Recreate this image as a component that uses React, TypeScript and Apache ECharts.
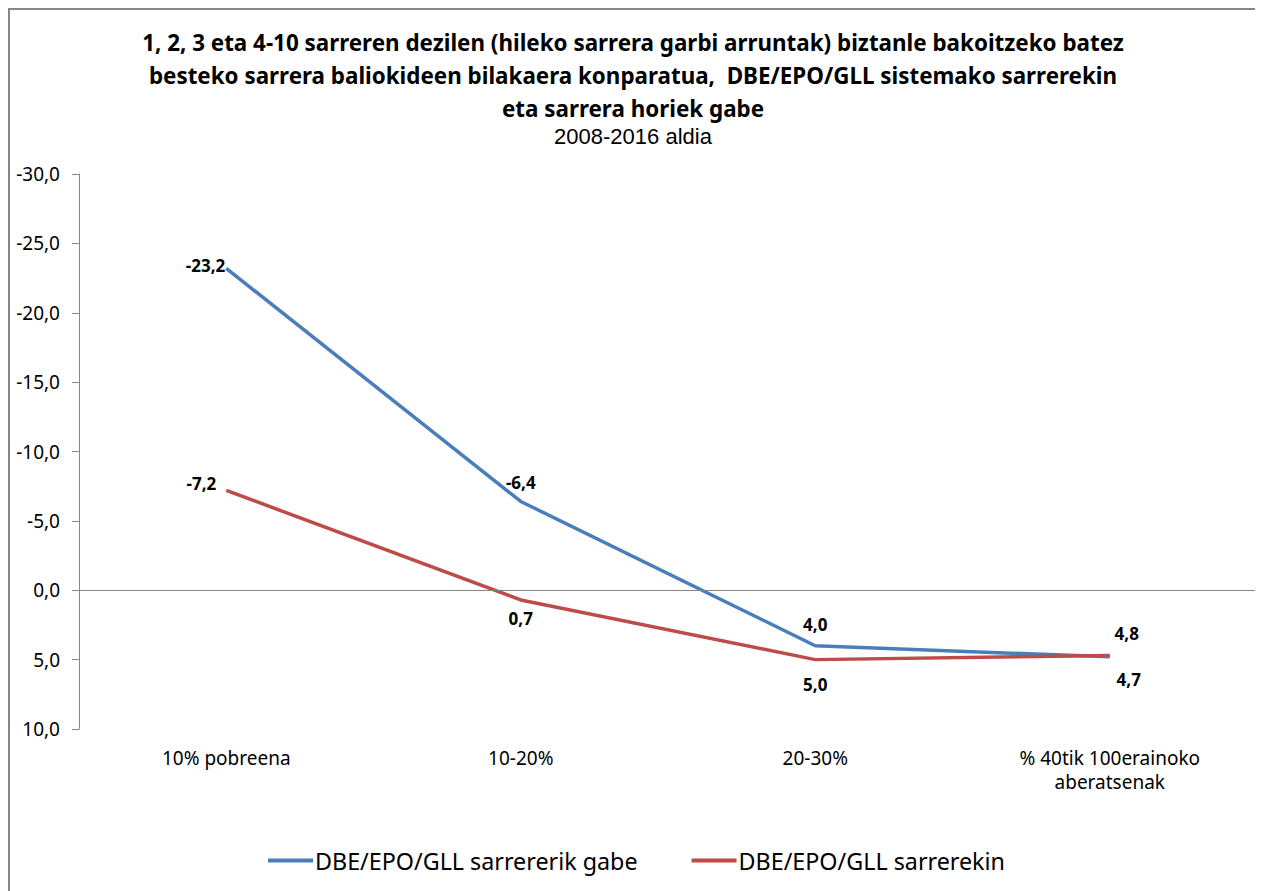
import React, { useEffect, useRef } from "react";
import * as echarts from "echarts";

const categories = ["10% pobreena", "10-20%", "20-30%", "% 40tik 100erainoko\naberatsenak"];
const seriesNames = ["DBE/EPO/GLL sarrererik gabe", "DBE/EPO/GLL sarrerekin"];
const withoutValues = [-23.2, -6.4, 4.0, 4.8];
const withValues = [-7.2, 0.7, 5.0, 4.7];
const titleLines = [
  "1, 2, 3 eta 4-10 sarreren dezilen (hileko sarrera garbi arruntak) biztanle bakoitzeko batez",
  "besteko sarrera baliokideen bilakaera konparatua,  DBE/EPO/GLL sistemako sarrerekin",
  "eta sarrera horiek gabe",
];
const subtitle = "2008-2016 aldia";

const blueLabelPos = [
  { position: "left", distance: 1, offset: [0, -3] },
  { position: "top", distance: 10, offset: [0, 0] },
  { position: "top", distance: 13, offset: [0, 0] },
  { position: "top", distance: 15, offset: [17, 0] },
];
const redLabelPos = [
  { position: "left", distance: 10, offset: [0, -7] },
  { position: "bottom", distance: 10, offset: [0, 0] },
  { position: "bottom", distance: 16, offset: [0, 0] },
  { position: "bottom", distance: 16, offset: [19, 0] },
];

const fmt = (v: number) => v.toFixed(1).replace(".", ",");
const FONT = "Noto Sans";

export default function App() {
  const ref = useRef<HTMLDivElement>(null);
  useEffect(() => {
    if (!ref.current) return;
    const chart = echarts.init(ref.current, undefined, { renderer: "svg" });
    const labelStyle = {
      show: true,
      formatter: (p: any) => fmt(p.value),
      fontFamily: FONT,
      fontWeight: "bold",
      fontSize: 17,
      color: "#000",
    };
    const mk = (vals: number[], pos: any[]) =>
      vals.map((v, i) => ({
        value: v,
        label: { ...labelStyle, position: pos[i].position, distance: pos[i].distance, offset: pos[i].offset },
      }));
    chart.setOption({
      animation: false,
      backgroundColor: "#fff",
      title: {
        text: titleLines.join("\n"),
        subtext: subtitle,
        left: 623,
        top: 16,
        padding: 0,
        itemGap: 1,
        textAlign: "center",
        textStyle: { fontFamily: FONT, fontWeight: "bold", fontSize: 22.4, lineHeight: 33, color: "#000" },
        subtextStyle: { fontFamily: "Liberation Sans", fontSize: 22, lineHeight: 20, color: "#000" },
      },
      legend: {
        bottom: 14,
        left: 253,
        width: 980,
        itemWidth: 45,
        itemHeight: 4,
        itemGap: 54,
        icon: "rect",
        textStyle: { fontFamily: FONT, fontSize: 23.3, color: "#000", padding: [0, 0, 0, -3] },
        data: seriesNames,
      },
      grid: { left: 69, right: 0, top: 164, height: 555 },
      xAxis: {
        type: "category",
        data: categories,
        boundaryGap: true,
        axisLine: { show: false },
        axisTick: { show: false },
        axisLabel: { fontFamily: FONT, fontSize: 19, color: "#000", margin: 17, lineHeight: 24 },
      },
      yAxis: {
        type: "value",
        inverse: true,
        min: -30,
        max: 10,
        interval: 5,
        axisLine: { show: true, lineStyle: { color: "#868686", width: 1 } },
        axisTick: { show: true, inside: false, length: 7, lineStyle: { color: "#868686" } },
        splitLine: { show: false },
        axisLabel: { fontFamily: FONT, fontSize: 19, color: "#000", margin: 19, formatter: (v: number) => fmt(v) },
      },
      series: [
        {
          name: seriesNames[0],
          type: "line",
          data: mk(withoutValues, blueLabelPos),
          symbol: "circle",
          symbolSize: 0,
          showSymbol: true,
          lineStyle: { color: "#4A7EBB", width: 3.5 },
          itemStyle: { color: "#4A7EBB" },
          label: labelStyle,
          z: 3,
          markLine: {
            silent: true,
            symbol: "none",
            label: { show: false },
            lineStyle: { color: "#868686", width: 1, type: "solid" },
            data: [{ yAxis: 0 }],
          },
        },
        {
          name: seriesNames[1],
          type: "line",
          data: mk(withValues, redLabelPos),
          symbol: "circle",
          symbolSize: 0,
          showSymbol: true,
          lineStyle: { color: "#BE4B48", width: 3.5 },
          itemStyle: { color: "#BE4B48" },
          label: labelStyle,
          z: 3,
        },
      ],
    });
    return () => chart.dispose();
  }, []);
  return (
    <div
      style={{
        width: 1247,
        height: 890,
        border: "2px solid #868686",
        borderBottom: "none",
        background: "#fff",
      }}
    >
      <div ref={ref} style={{ width: 1247, height: 881 }} />
    </div>
  );
}
